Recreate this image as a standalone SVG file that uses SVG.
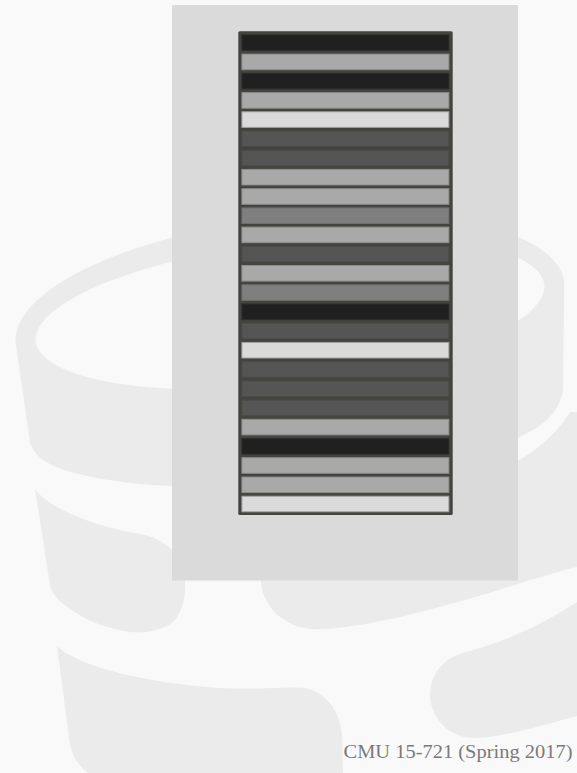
<svg xmlns="http://www.w3.org/2000/svg" width="577" height="773" viewBox="0 0 577 773">
  <style>
    .wm { fill: #ebebeb; }
    .s { stroke-width: 1; }
    .k { fill: #202020; stroke: #2e2e2e; }
    .l { fill: #a9a9a9; stroke: #8c8c8c; }
    .v { fill: #dadada; stroke: #a0a0a0; }
    .d { fill: #555555; stroke: #4a4a48; }
    .m { fill: #7f7f7f; stroke: #6e6e6e; }
    .caption { font-family: "Liberation Serif", "DejaVu Serif", serif; font-size: 19px; fill: #7a7a7a; }
  </style>
  <rect x="0" y="0" width="577" height="773" fill="#f9f9f9"/>
  <g id="watermark">
    <path class="wm" fill-rule="evenodd" d="M15.7,343.8 A276,96,-6.4,0,1,279.3,217.6 A276,96,-6.4,0,1,564.3,282.2 L563,390 C560,410 545,425 527,433 C480,460 300,490 172,486 C120,484 70,475 50,464 C38,458 32,450 30,442 Z M35.6,341.5 A256,72,-6.4,0,1,544.4,284.5 A256,72,-6.4,0,1,35.6,341.5 Z"/>
    <path class="wm" d="M35,489 C48,508 95,527 140,534 C158,537 170,546 178,556 C186,568 190,600 175,620 C165,630 145,634 130,632 C110,629 90,622 78,614 C62,604 52,596 50,585 Z"/>
    <path class="wm" d="M519,460 C535,452 558,432 570,412 L577,412 L577,567 C545,574 480,598 400,617 C360,626 330,630 310,629 C285,626 268,610 262,590 L258,560 Z"/>
    <path class="wm" d="M57,646 C80,668 150,683 220,688 C260,690 290,686 305,688 C325,692 340,710 342,735 L343,773 L88,773 C78,765 72,755 70,745 Z"/>
    <path class="wm" d="M577,602 L577,716 C540,726 500,738 475,738 C450,738 432,720 430,697 C430,672 445,656 470,651 C510,640 550,620 577,602 Z"/>
  </g>
  <g id="panel">
    <rect x="172" y="5" width="346" height="575.5" fill="#dadada"/>
  </g>
  <g id="column">
    <rect x="238.3" y="31.2" width="214.4" height="483.8" rx="1.5" fill="#43433f"/>
    <g class="s">
      <rect id="r1" class="k" x="241.9" y="34.9" width="207" height="15.6"/>
      <rect id="r2" class="l" x="241.9" y="54.1" width="207" height="15.6"/>
      <rect id="r3" class="k" x="241.9" y="73.3" width="207" height="15.6"/>
      <rect id="r4" class="l" x="241.9" y="92.6" width="207" height="15.6"/>
      <rect id="r5" class="v" x="241.9" y="111.8" width="207" height="15.6"/>
      <rect id="r6" class="d" x="241.9" y="131.0" width="207" height="15.6"/>
      <rect id="r7" class="d" x="241.9" y="150.2" width="207" height="15.6"/>
      <rect id="r8" class="l" x="241.9" y="169.4" width="207" height="15.6"/>
      <rect id="r9" class="l" x="241.9" y="188.7" width="207" height="15.6"/>
      <rect id="r10" class="m" x="241.9" y="207.9" width="207" height="15.6"/>
      <rect id="r11" class="l" x="241.9" y="227.1" width="207" height="15.6"/>
      <rect id="r12" class="d" x="241.9" y="246.3" width="207" height="15.6"/>
      <rect id="r13" class="l" x="241.9" y="265.5" width="207" height="15.6"/>
      <rect id="r14" class="m" x="241.9" y="284.8" width="207" height="15.6"/>
      <rect id="r15" class="k" x="241.9" y="304.0" width="207" height="15.6"/>
      <rect id="r16" class="d" x="241.9" y="323.2" width="207" height="15.6"/>
      <rect id="r17" class="v" x="241.9" y="342.4" width="207" height="15.6"/>
      <rect id="r18" class="d" x="241.9" y="361.6" width="207" height="15.6"/>
      <rect id="r19" class="d" x="241.9" y="380.9" width="207" height="15.6"/>
      <rect id="r20" class="d" x="241.9" y="400.1" width="207" height="15.6"/>
      <rect id="r21" class="l" x="241.9" y="419.3" width="207" height="15.6"/>
      <rect id="r22" class="k" x="241.9" y="438.5" width="207" height="15.6"/>
      <rect id="r23" class="l" x="241.9" y="457.7" width="207" height="15.6"/>
      <rect id="r24" class="l" x="241.9" y="477.0" width="207" height="15.6"/>
      <rect id="r25" class="v" x="241.9" y="496.2" width="207" height="15.6"/>
    </g>
  </g>
  <g id="connectors"/>
  <text class="caption" x="343.5" y="757.5" textLength="229" lengthAdjust="spacingAndGlyphs">CMU 15-721 (Spring 2017)</text>
</svg>
